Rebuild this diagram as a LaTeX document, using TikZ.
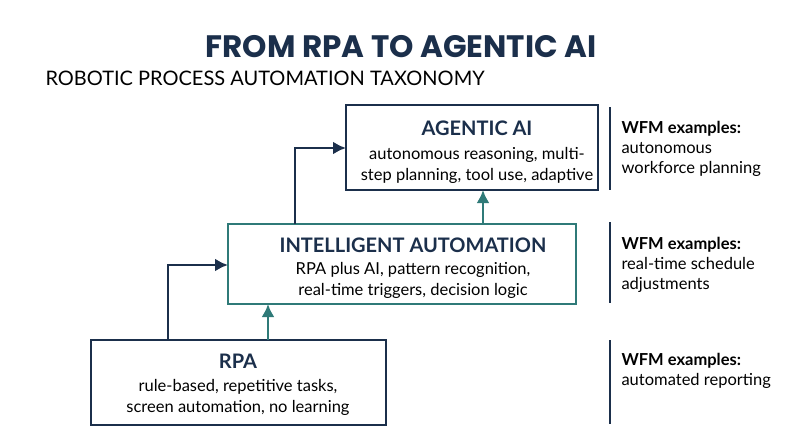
\documentclass[tikz,border=0pt]{standalone}
\usepackage{fontspec}
\usetikzlibrary{arrows.meta}
\setmainfont{Lato}
\newfontfamily\titlefont{Poppins}
\definecolor{navy}{HTML}{1B2F4B}
\definecolor{teal}{HTML}{2F7A78}
\begin{document}
\begin{tikzpicture}[x=1pt,y=-1pt,
  box/.style={draw=navy,line width=2.2pt,fill=white},
  ttl/.style={font=\fontsize{20}{24}\selectfont\bfseries,text=navy},
  body/.style={font=\fontsize{16.5}{21}\selectfont,text=black,align=center},
  ex/.style={font=\fontsize{16.5}{20}\selectfont,text=black,align=left,anchor=north west},
  bar/.style={navy,line width=2pt},
  arr/.style={line width=2.6pt,-{Latex[length=13pt,width=13pt]}}]
\useasboundingbox (0,0) rectangle (800,447);
\fill[white] (0,0) rectangle (800,447);
\node[font=\titlefont\fontsize{31}{36}\selectfont\bfseries,text=navy] (title) at (401,47) {FROM RPA TO AGENTIC AI};
\node[anchor=west,font=\fontsize{20}{24}\selectfont,text=black] (sub) at (42,78) {ROBOTIC PROCESS AUTOMATION TAXONOMY};
% boxes
\draw[box] (346,105) rectangle (598,190);
\node (agT) [ttl] at (477,128) {AGENTIC AI};
\node (agB) [body] at (477,165) {autonomous reasoning, multi-\\step planning, tool use, adaptive};
\draw[box,draw=teal] (228,224) rectangle (576,304);
\node (iaT) [ttl] at (413,245) {INTELLIGENT AUTOMATION};
\node (iaB) [body] at (413,280) {RPA plus AI, pattern recognition,\\real-time triggers, decision logic};
\draw[box] (91,340) rectangle (386,425);
\node (rpT) [ttl] at (238,361) {RPA};
\node (rpB) [body] at (238,397) {rule-based, repetitive tasks,\\screen automation, no learning};
% arrows
\coordinate (r1) at (168,340); \coordinate (i1) at (228,265);
\draw[arr,navy] (r1) |- (i1);
\coordinate (i2) at (295,224); \coordinate (g1) at (346,148);
\draw[arr,navy] (i2) |- (g1);
\coordinate (r2) at (268,340); \coordinate (i3) at (268,304);
\draw[arr,teal] (r2) -- (i3);
\coordinate (i4) at (483,224); \coordinate (g2) at (483,190);
\draw[arr,teal] (i4) -- (g2);
% side bars
\draw[bar] (610,107) -- (610,190);
\draw[bar] (610,222) -- (610,303);
\draw[bar] (610,340) -- (610,424);
\node (e1) [ex] at (618,118) {\textbf{WFM examples:}\\autonomous\\workforce planning};
\node (e2) [ex] at (618,234) {\textbf{WFM examples:}\\real-time schedule\\adjustments};
\node (e3) [ex] at (618,350) {\textbf{WFM examples:}\\automated reporting};
\end{tikzpicture}
\end{document}
